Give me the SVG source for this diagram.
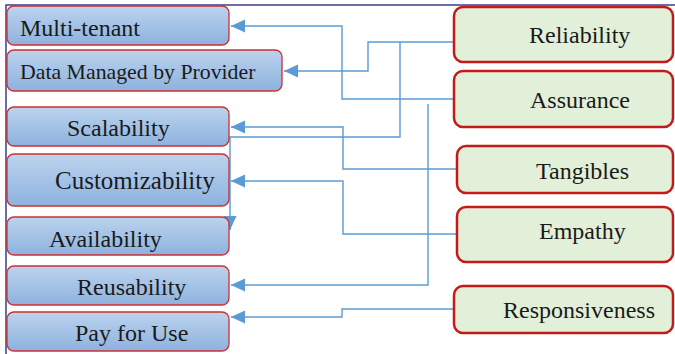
<svg xmlns="http://www.w3.org/2000/svg" width="675" height="354" viewBox="0 0 675 354">
<style>
  .lb { fill: url(#blueGrad); stroke: #cf2f2f; stroke-width: 1.3; }
  .rb { fill: #e2efd9; stroke: #c41a1a; stroke-width: 2.5; }
  .t { font-family: "Liberation Serif", "Times New Roman", serif; font-size: 24px; fill: #1a1a1a; }
  .c { fill: none; stroke: #5b9bd5; stroke-width: 1.4; marker-end: url(#arr); }
  .cn { fill: none; stroke: #5b9bd5; stroke-width: 1.4; }
</style>
<defs>
  <linearGradient id="blueGrad" x1="0" y1="0" x2="0" y2="1">
    <stop offset="0" stop-color="#bcd3ee"/>
    <stop offset="1" stop-color="#8db2de"/>
  </linearGradient>
  <marker id="arr" markerUnits="userSpaceOnUse" markerWidth="15" markerHeight="14" refX="14" refY="6.5" orient="auto">
    <path d="M0,0 L14,6.5 L0,13 Z" fill="#5b9bd5"/>
  </marker>
</defs>
<rect width="675" height="354" fill="#ffffff"/>
<path d="M6,354 L6,5 L675,5" fill="none" stroke="#3c3c8c" stroke-width="1.5"/>

<g id="connectors">
  <path class="c" d="M453,99 H342 V26 H231"/>
  <path class="c" d="M453,42 H368 V71 H284"/>
  <path class="c" d="M400,42 V137 H230 V230"/>
  <path class="c" d="M456,169 H343 V127 H231"/>
  <path class="c" d="M456,234 H343 V181 H231"/>
  <path class="c" d="M428,104 V285 H231"/>
  <path class="c" d="M453,309 H342 V317 H231"/>
</g>

<g id="multi-tenant"><rect class="lb" x="7" y="6" width="222" height="39" rx="7"/><text class="t" x="20" y="36">Multi-tenant</text></g>
<g id="data-managed"><rect class="lb" x="7" y="50" width="275" height="41" rx="7"/><text class="t" x="20" y="79" style="font-size:21.8px">Data Managed by Provider</text></g>
<g id="scalability"><rect class="lb" x="7" y="107" width="222" height="39" rx="7"/><text class="t" x="67" y="136">Scalability</text></g>
<g id="customizability"><rect class="lb" x="7" y="154" width="222" height="52" rx="7"/><text class="t" x="55" y="189" style="font-size:25px">Customizability</text></g>
<g id="availability"><rect class="lb" x="7" y="217" width="222" height="38" rx="7"/><text class="t" x="49" y="247">Availability</text></g>
<g id="reusability"><rect class="lb" x="7" y="266" width="222" height="39" rx="7"/><text class="t" x="77" y="295">Reusability</text></g>
<g id="pay-for-use"><rect class="lb" x="7" y="312" width="222" height="39" rx="7"/><text class="t" x="75" y="341">Pay for Use</text></g>

<g id="reliability"><rect class="rb" x="454" y="7" width="219" height="55" rx="9"/><text class="t" x="529" y="43">Reliability</text></g>
<g id="assurance"><rect class="rb" x="454" y="71" width="219" height="56" rx="9"/><text class="t" x="530" y="108">Assurance</text></g>
<g id="tangibles"><rect class="rb" x="457" y="146" width="216" height="47" rx="9"/><text class="t" x="536" y="179">Tangibles</text></g>
<g id="empathy"><rect class="rb" x="457" y="207" width="216" height="55" rx="9"/><text class="t" x="539" y="239">Empathy</text></g>
<g id="responsiveness"><rect class="rb" x="454" y="286" width="219" height="47" rx="9"/><text class="t" x="503" y="318">Responsiveness</text></g>
</svg>
